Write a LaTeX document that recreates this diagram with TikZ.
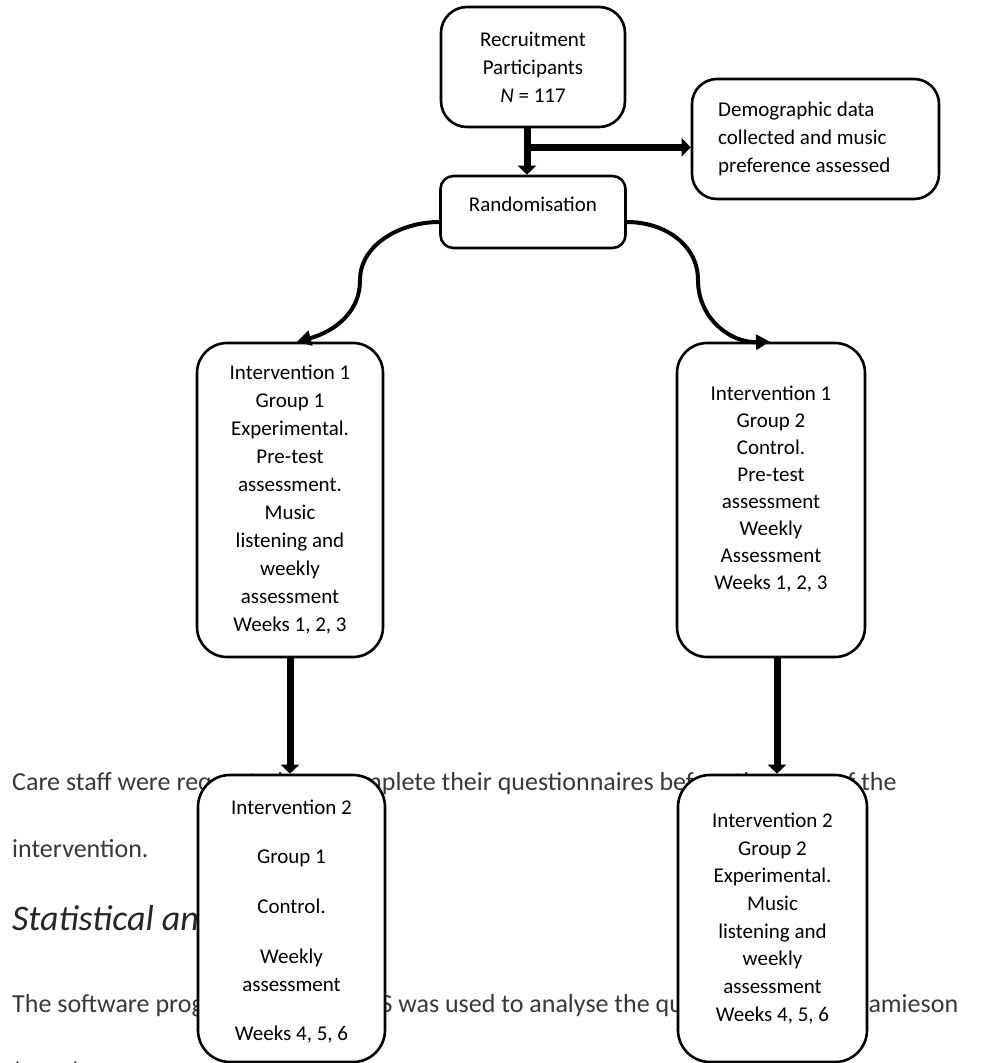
\documentclass[tikz,border=0pt]{standalone}
\usepackage{fontspec}
\setmainfont{Carlito}
\usetikzlibrary{arrows.meta}
\begin{document}
\begin{tikzpicture}[x=1pt,y=1pt,
  box/.style={draw, line width=2.6pt, fill=white, inner sep=0pt},
  btxt/.style={font=\fontsize{21}{28}\selectfont, align=center, inner sep=0pt},
  body/.style={font=\fontsize{26}{30}\selectfont, text=black!78, anchor=base west, inner sep=0pt},
  thickarrow/.style={line width=7pt, -{Triangle[width=18pt,length=9pt]}},
  curvearrow/.style={line width=4pt, -{Triangle[width=15pt,length=14pt]}}]
\useasboundingbox (0,0) rectangle (989,-1063);
% ---- background body text (partly covered by the boxes)
\node[body] (t1a) at (12,-790) {Care staff were requested to};
\node[body] (t1b) at (336.5,-790) {complete their questionnaires before the};
\node[body] (t1c) at (833.5,-790) {of the};
\node[body] (t2) at (12,-857) {intervention.};
\node[body, font=\fontsize{36}{40}\selectfont\itshape, text=black!85] (t3) at (12,-930) {Statistical ana};
\node[body] (t4a) at (12,-1012) {The software program};
\node[body] (t4b) at (343,-1012) {SPSS was used to analyse the qu};
\node[body] (t4c) at (860,-1012) {Jamieson};
\node[body] (t5) at (12,-1080) {(2004)};
% ---- boxes
\node[box, rounded corners=26pt, minimum width=184pt, minimum height=120pt, btxt] (rec) at (533,-67)
  {Recruitment\\Participants\\\textit{N} = 117};
\node[box, rounded corners=25pt, minimum width=247pt, minimum height=120pt] (demo) at (815.5,-139) {};
\node[btxt, align=left, anchor=west] (demot) at (718,-139)
  {Demographic data\\collected and music\\preference assessed};
\node[box, rounded corners=13pt, minimum width=185pt, minimum height=72pt] (rand) at (533,-212) {};
\node[btxt] (randt) at (533,-204) {Randomisation};
\node[box, rounded corners=30pt, minimum width=186pt, minimum height=314pt, btxt] (i1a) at (290,-500)
  {Intervention 1\\Group 1\\Experimental.\\Pre-test\\assessment.\\Music\\listening and\\weekly\\assessment\\Weeks 1, 2, 3};
\node[box, rounded corners=30pt, minimum width=188pt, minimum height=314pt] (i1b) at (771,-500) {};
\node[btxt, font=\fontsize{21}{27}\selectfont] (i1bt) at (771,-489)
  {Intervention 1\\Group 2\\Control.\\Pre-test\\assessment\\Weekly\\Assessment\\Weeks 1, 2, 3};
\node[box, rounded corners=32pt, minimum width=187pt, minimum height=287pt] (i2a) at (291.5,-918.5) {};
\node[btxt] (i2at) at (291.5,-922)
  {Intervention 2\\[21pt]Group 1\\[22pt]Control.\\[22pt]Weekly\\assessment\\[21pt]Weeks 4, 5, 6};
\node[box, rounded corners=32pt, minimum width=189pt, minimum height=287pt, btxt, font=\fontsize{21}{27.7}\selectfont] (i2b) at (772.5,-918.5)
  {Intervention 2\\Group 2\\Experimental.\\Music\\listening and\\weekly\\assessment\\Weeks 4, 5, 6};
% ---- connectors
\coordinate (j) at ([xshift=-6pt,yshift=-19pt]rec.south);
\draw[thickarrow] ([xshift=-6pt]rec.south) -- ([xshift=-6pt]rand.north);
\draw[thickarrow, line width=6.5pt] ([xshift=-3pt]j) -- (j -| demo.west);
\draw[curvearrow] ([yshift=-10pt]rand.west) .. controls (400,-222) and (360,-245) .. (360,-280)
  .. controls (360,-318) and (326,-334) .. ([xshift=7pt]i1a.north);
\draw[curvearrow] ([yshift=-10pt]rand.east) .. controls (665,-222) and (698,-245) .. (698,-280)
  .. controls (698,-318) and (730,-343) .. ([xshift=-1pt]i1b.north);
\draw[thickarrow] (i1a.south) -- (i2a.north -| i1a.south);
\draw[thickarrow] ([xshift=6pt]i1b.south) -- ([xshift=6pt]i1b.south |- i2b.north);
\end{tikzpicture}
\end{document}
